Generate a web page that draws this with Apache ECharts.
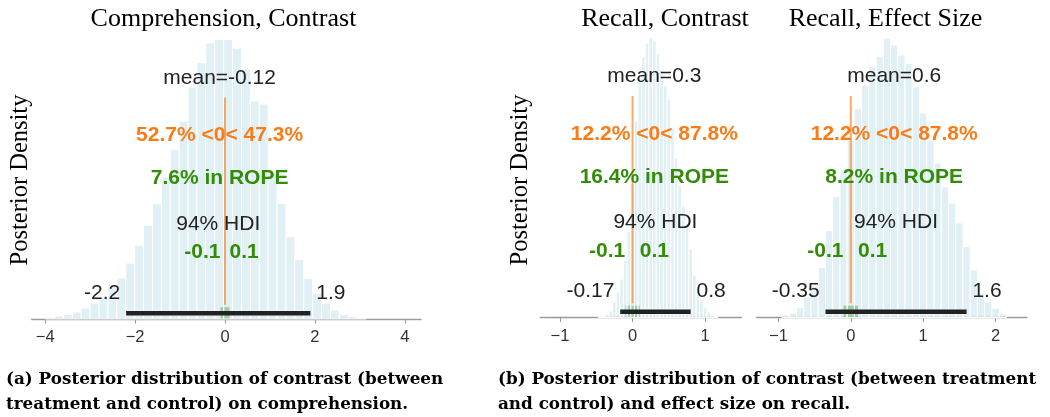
<!DOCTYPE html>
<html>
<head>
<meta charset="utf-8">
<script src="https://cdn.jsdelivr.net/npm/echarts@6/dist/echarts.min.js"></script>
<style>
  html, body { margin: 0; padding: 0; background: #ffffff; }
  #chart { width: 1050px; height: 417px; }
</style>
</head>
<body>
<div id="chart"></div>
<script>
// ---- Posterior histograms (equal-width bins starting at *BinStart) ----
const compBinStart = -3.99;
const compBinWidth = 0.198;
const compHeights = [1.3, 3, 4.7, 7, 11, 16, 22, 32.7, 41, 56, 73.7, 93.7, 115.3, 142, 169.3,
  198, 232, 256.3, 276, 279.7, 279.7, 270.7, 250, 218, 215, 146, 115.7, 82.3, 59.7, 40.7,
  25.7, 15.7, 9, 4.7, 2.3, 1];

const recallBinStart = -0.475;
const recallBinWidth = 0.05;
const recallHeights = [0.5, 1.1, 3, 6.5, 15.5, 25.5, 38.5, 57.5, 86.5, 133.5, 196.5, 237.5,
  260.5, 274.5, 280, 276.5, 263.5, 247.5, 231.5, 218.5, 189.5, 159.5, 132.5, 111.5, 92.5,
  68.5, 42.5, 28.5, 17.5, 10, 5.5, 2.5, 1];

const effectBinStart = -0.95;
const effectBinWidth = 0.1;
const effectHeights = [2.5, 4.5, 10, 20, 32, 50, 87, 121, 147, 177, 209, 232.5, 250.8, 260.8,
  279.2, 272.5, 262.5, 254.2, 230.8, 204.5, 177.5, 154.5, 130.8, 114.5, 94.5, 70.8, 47.5,
  24.5, 15.8, 9.2, 4.2];

// ---- Summary statistics ----
const panelTitles = ['Comprehension, Contrast', 'Recall, Contrast', 'Recall, Effect Size'];
const meanValues = [-0.12, 0.3, 0.6];
const refValue = 0;
const belowRef = [52.7, 12.2, 12.2];
const aboveRef = [47.3, 87.8, 87.8];
const ropeInside = [7.6, 16.4, 8.2];
const ropeBounds = [-0.1, 0.1];
const hdiLow = [-2.2, -0.17, -0.35];
const hdiHigh = [1.9, 0.8, 1.6];
const hdiLabel = '94% HDI';

// ---- Axis ticks ----
const compTicks = [-4, -2, 0, 2, 4];
const recallTicks = [-1, 0, 1];
const effectTicks = [-1, 0, 1, 2];

// ---- Text ----
const yAxisName = 'Posterior Density';
const captionA = ['(a) Posterior distribution of contrast (between',
                  'treatment and control) on comprehension.'];
const captionB = ['(b) Posterior distribution of contrast (between treatment',
                  'and control) and effect size on recall.'];

// ---- Styling ----
const ORANGE = '#fa7c17';
const GREEN = '#328c06';
const TEXT = '#222222';
const SANS = '"Liberation Sans", Arial, sans-serif';
const SERIF = '"Liberation Serif", "Times New Roman", serif';
const PLOT_H = 296;               // y-axis extent (plot height units)
const ANN_FS = 21;                // annotation font size
const MID = 0.3465 * ANN_FS;      // baseline -> middle offset for Liberation Sans

const panels = [
  { grid: { left: 31.7, top: 23, width: 389.3, height: PLOT_H }, xMin: -4.3, xMax: 4.36,
    ticks: compTicks, start: compBinStart, width: compBinWidth, heights: compHeights, titleX: 223.5 },
  { grid: { left: 540.3, top: 21.5, width: 201.2, height: PLOT_H }, xMin: -1.27, xMax: 1.5,
    ticks: recallTicks, start: recallBinStart, width: recallBinWidth, heights: recallHeights, titleX: 665 },
  { grid: { left: 756.7, top: 21.5, width: 270.3, height: PLOT_H }, xMin: -1.3, xMax: 2.435,
    ticks: effectTicks, start: effectBinStart, width: effectBinWidth, heights: effectHeights, titleX: 885.5 }
];

function fmtTick(v) { return String(v).replace('-', '\u2212'); }

function textEl(str, x, y, opts) {
  const align = opts.align || 'center';
  const va = opts.va || 'middle';
  return {
    type: 'text',
    style: {
      text: str, x: x, y: y,
      font: opts.font, fill: opts.fill || TEXT,
      align: align, verticalAlign: va,
      textAlign: align, textVerticalAlign: va
    }
  };
}

const grids = [], xAxes = [], yAxes = [], series = [];

panels.forEach(function (p, i) {
  grids.push(Object.assign({ containLabel: false }, p.grid));
  xAxes.push({
    type: 'value', gridIndex: i, min: p.xMin, max: p.xMax,
    axisLine: { show: true, onZero: false, lineStyle: { color: '#9a9a9a', width: 1.3 } },
    axisTick: { show: true, customValues: p.ticks, length: 4.5, lineStyle: { color: '#9a9a9a', width: 1.1 } },
    axisLabel: { customValues: p.ticks, formatter: fmtTick, margin: 10,
                 fontSize: 16.5, fontFamily: SANS, color: '#333333' },
    splitLine: { show: false }
  });
  yAxes.push({ type: 'value', gridIndex: i, min: 0, max: PLOT_H, show: false });

  // ROPE band along the baseline
  series.push({
    type: 'custom', xAxisIndex: i, yAxisIndex: i, z: 2, silent: true, animation: false,
    data: [[ropeBounds[0], ropeBounds[1]]],
    encode: { x: [0, 1] },
    renderItem: function (params, api) {
      const a = api.coord([api.value(0), 0.04 * PLOT_H]);
      const b = api.coord([api.value(1), 0]);
      return { type: 'rect', shape: { x: a[0], y: a[1], width: b[0] - a[0], height: b[1] - a[1] },
               style: { fill: 'rgba(50,140,6,0.5)' } };
    }
  });

  // Histogram bins
  series.push({
    type: 'custom', xAxisIndex: i, yAxisIndex: i, z: 3, silent: true, animation: false,
    data: p.heights.map(function (h, k) { return [p.start + k * p.width, p.start + (k + 1) * p.width, h]; }),
    encode: { x: [0, 1], y: 2 },
    renderItem: function (params, api) {
      const a = api.coord([api.value(0), api.value(2)]);
      const b = api.coord([api.value(1), 0]);
      return { type: 'rect', shape: { x: a[0], y: a[1], width: b[0] - a[0], height: b[1] - a[1] },
               style: { fill: 'rgba(173,216,230,0.38)', stroke: '#ffffff', lineWidth: 1 } };
    }
  });

  // HDI bar, reference line and annotation texts
  series.push({
    type: 'custom', xAxisIndex: i, yAxisIndex: i, z: 4, silent: true, animation: false,
    data: [[meanValues[i], 0]],
    encode: { x: 0, y: 1 },
    renderItem: function (params, api) {
      const at = function (x, f) { return api.coord([x, f * PLOT_H]); };
      const kids = [];
      const h0 = at(hdiLow[i], 0.0193), h1 = at(hdiHigh[i], 0.0193);
      kids.push({ type: 'line', shape: { x1: h0[0], y1: h0[1], x2: h1[0], y2: h1[1] },
                  style: { stroke: '#222222', lineWidth: 4.5, lineCap: 'butt' } });
      const r0 = at(refValue, 0.048), r1 = at(refValue, 0.748);
      kids.push({ type: 'line', shape: { x1: r0[0], y1: r0[1], x2: r1[0], y2: r1[1] },
                  style: { stroke: ORANGE, opacity: 0.65, lineWidth: 2 } });

      const reg = ANN_FS + 'px ' + SANS;
      const bold = 'bold ' + ANN_FS + 'px ' + SANS;
      const m = meanValues[i];
      const put = function (str, x, f, font, fill, align) {
        const q = at(x, f);
        kids.push(textEl(str, q[0], q[1] - MID, { font: font, fill: fill, align: align }));
      };
      put('mean=' + m, m, 0.79, reg, TEXT, 'center');
      put(belowRef[i] + '% <' + refValue + '< ' + aboveRef[i] + '%', m, 0.595, bold, ORANGE, 'center');
      put(ropeInside[i] + '% in ROPE', m, 0.451, bold, GREEN, 'center');
      put(hdiLabel, (hdiLow[i] + hdiHigh[i]) / 2, 0.296, reg, TEXT, 'center');
      put(String(ropeBounds[0]), ropeBounds[0], 0.2, bold, GREEN, 'right');
      put(String(ropeBounds[1]), ropeBounds[1], 0.2, bold, GREEN, 'left');
      put(hdiLow[i] + ' ', hdiLow[i], 0.064, reg, TEXT, 'right');
      put(' ' + hdiHigh[i], hdiHigh[i], 0.064, reg, TEXT, 'left');
      return { type: 'group', children: kids };
    }
  });
});

const titleFont = '26px ' + SERIF;
const labelFont = '24.5px ' + SERIF;
const capFont = 'bold 16.8px "DejaVu Serif", serif';

const graphics = [];
panels.forEach(function (p, i) {
  graphics.push(textEl(panelTitles[i], p.titleX, 19.5, { font: titleFont, fill: '#000000' }));
});
[20.4, 520.6].forEach(function (x) {
  const t = textEl(yAxisName, 0, 0, { font: labelFont, fill: '#000000' });
  t.x = x; t.y = 180; t.rotation = Math.PI / 2;
  graphics.push(t);
});
captionA.forEach(function (line, k) {
  graphics.push(textEl(line, 6, 380 + 25 * k, { font: capFont, fill: '#000000', align: 'left' }));
});
captionB.forEach(function (line, k) {
  graphics.push(textEl(line, 498, 380 + 25 * k, { font: capFont, fill: '#000000', align: 'left' }));
});

const chart = echarts.init(document.getElementById('chart'), null, { renderer: 'canvas' });
chart.setOption({
  animation: false,
  backgroundColor: '#ffffff',
  grid: grids,
  xAxis: xAxes,
  yAxis: yAxes,
  series: series,
  graphic: { elements: graphics }
});
</script>
</body>
</html>
